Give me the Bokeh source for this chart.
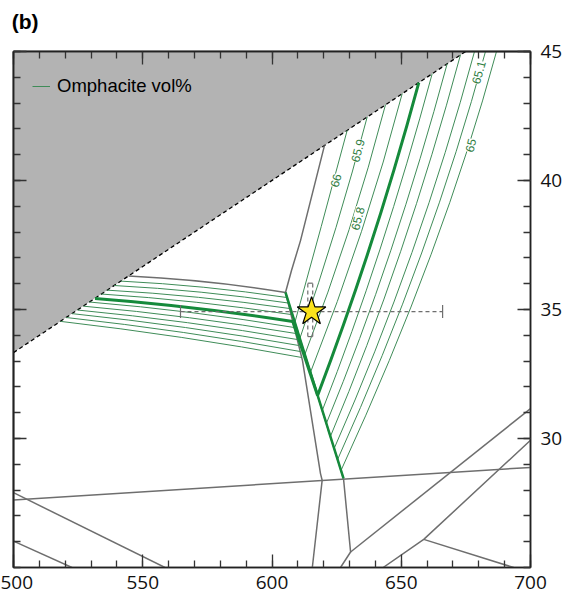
from bokeh.plotting import figure
from bokeh.models import (Range1d, LinearAxis, FixedTicker, ColumnDataSource, LabelSet,
                          Legend, LegendItem)
from bokeh.core.properties import value
from bokeh.embed import file_html
from bokeh.resources import INLINE

# ---------------- data ----------------
x_ticks = [500, 550, 600, 650, 700]
y_ticks = [30, 35, 40, 45]
x_minor = list(range(500, 701, 10))
y_minor = list(range(25, 46))
panel_letter = "(b)"

# grey (excluded) field above the dashed reaction
shade_x = [500, 674.9, 500]
shade_y = [33.33, 45, 45]
dash_x = [500, 674.9]
dash_y = [33.33, 45]

# grey field boundaries (polylines)
bound_xs = [
    [620.31, 611.03, 607.54, 605.22],
    [605.22, 611.8, 618.76, 619.4, 615.6],
    [605.22, 627.66],
    [627.66, 630.4, 626.5],
    [500, 700],
    [630.4, 700],
    [643.0, 658.7, 700],
    [658.7, 693.5],
    [500, 558.6],
    [500, 522.6],
]
bound_ys = [
    [41.36, 37.67, 36.51, 35.66],
    [35.66, 33.02, 28.64, 28.38, 25.0],
    [35.66, 28.45],
    [28.45, 25.6, 25.0],
    [27.62, 28.88],
    [25.6, 31.16],
    [25.0, 26.09, 29.93],
    [26.09, 25.0],
    [27.9, 25.0],
    [26.02, 25.0],
]
# curved grey boundary on top of the left field
topb_x0, topb_y0, topb_cx, topb_cy, topb_x1, topb_y1 = 544.5, 36.30, 575.6, 36.15, 605.22, 35.66

# right-field omphacite isopleths (66 ... 65), quadratic curves
r_val = [66, 65.9, 65.8, 65.7, 65.6, 65.5, 65.4, 65.3, 65.2, 65.1, 65.0]
r_x0 = [629.09, 636.83, 643.91, 650.37, 656.79, 661.97, 667.77, 672.92, 678.34, 682.59, 686.85]
r_y0 = [41.946, 42.465, 42.938, 43.368, 43.795, 44.140, 44.527, 44.872, 45.0, 45.0, 45.0]
r_cx = [619.15, 625.76, 631.33, 636.67, 640.07, 642.90, 647.62, 651.72, 657.10, 661.82, 666.38]
r_cy = [38.217, 38.202, 38.093, 38.097, 37.593, 37.066, 37.047, 37.004, 37.112, 37.287, 37.403]
r_x1 = [608.84, 610.77, 612.70, 614.87, 617.64, 619.45, 621.02, 622.59, 624.04, 625.37, 626.69]
r_y1 = [34.496, 33.876, 33.256, 32.558, 31.667, 31.085, 30.581, 30.078, 29.612, 29.186, 28.760]
r_thick = 4  # index of the bold isopleth

# left-field isopleths, quadratic curves
l_x0 = [541.55, 538.92, 536.29, 533.96, 531.53, 529.32, 526.99, 524.80, 522.67, 520.35, 518.18]
l_y0 = [36.10, 35.93, 35.75, 35.60, 35.43, 35.29, 35.13, 34.98, 34.84, 34.69, 34.54]
l_cx = [573.6, 572.6, 571.5, 570.7, 569.8, 569.0, 568.1, 567.3, 566.5, 565.7, 564.9]
l_cy = [35.94, 35.75, 35.55, 35.36, 35.14, 34.96, 34.76, 34.57, 34.38, 34.19, 34.00]
l_x1 = [605.72, 606.23, 606.77, 607.35, 608.05, 608.63, 609.21, 609.79, 610.37, 610.95, 611.53]
l_y1 = [35.465, 35.252, 35.039, 34.806, 34.535, 34.302, 34.070, 33.837, 33.605, 33.372, 33.140]
l_thick = 4

# bold isopleth inside the narrow channel
chan_x = [608.05, 617.64]
chan_y = [34.535, 31.667]
# narrow field edge packed with isopleths
band_x = [605.22, 627.66]
band_y = [35.66, 28.45]

# isopleth labels
lab_text = ["66", "65.9", "65.8", "65.1", "65"]
lab_x = [624.6, 633.1, 633.1, 679.9, 676.8]
lab_y = [40.0, 41.16, 38.53, 44.19, 41.36]

# P-T estimate with uncertainties
star_x, star_y = 615.3, 34.92
err_x = [564.6, 666.0]
err_y = [33.95, 36.02]
vbar_x = [613.85, 615.75]   # the pressure bar is drawn as a narrow dashed box

# ---------------- styling ----------------
GREY = "#6e6e6e"
THIN_G = "#3f8c58"
THICK_G = "#158a3b"
LAB_G = "#2f7d42"
TICK_FONT = "Open Sans"

p = figure(width=574, height=599, x_range=Range1d(500, 700), y_range=Range1d(25, 45),
           output_backend="svg", toolbar_location=None,
           x_axis_location=None, y_axis_location=None,
           min_border_left=13, min_border_right=44, min_border_top=51, min_border_bottom=32)
p.xgrid.visible = False
p.ygrid.visible = False
p.background_fill_color = "white"
p.border_fill_color = "white"
p.outline_line_color = "#222222"
p.outline_line_width = 1.5


def base_axis(ax):
    ax.major_tick_in = 13
    ax.major_tick_out = 0
    ax.minor_tick_in = 7
    ax.minor_tick_out = 0
    ax.axis_line_color = "#222222"
    ax.axis_line_width = 1.5
    ax.major_tick_line_color = "#333333"
    ax.minor_tick_line_color = "#333333"
    ax.major_tick_line_width = 1.3
    ax.minor_tick_line_width = 1.3
    ax.major_label_text_font = TICK_FONT
    ax.major_label_text_font_size = "19px"
    ax.major_label_text_color = "#111111"


# labelled axes
xb = LinearAxis(ticker=FixedTicker(ticks=x_ticks, minor_ticks=x_minor))
base_axis(xb)
xb.major_label_standoff = 8
p.add_layout(xb, "below")
yr = LinearAxis(ticker=FixedTicker(ticks=y_ticks, minor_ticks=y_minor))
base_axis(yr)
yr.major_label_standoff = 10
p.add_layout(yr, "right")

# unlabelled tick rows on top and left (minor-only tickers => no label texts)
top_axis = None
for loc, minors, majors in (("above", x_minor, x_ticks), ("left", y_minor, y_ticks)):
    a1 = LinearAxis(ticker=FixedTicker(ticks=[], minor_ticks=minors))
    base_axis(a1)
    a1.major_label_standoff = 0
    p.add_layout(a1, loc)
    a2 = LinearAxis(ticker=FixedTicker(ticks=[], minor_ticks=majors))
    base_axis(a2)
    a2.minor_tick_in = 13
    a2.major_label_standoff = 0
    p.add_layout(a2, loc)
    if loc == "above":
        top_axis = a2

# panel letter as the label of the top tick row, at the left edge of the frame
top_axis.axis_label = "\u00a0\u00a0\u00a0\u00a0" + panel_letter
top_axis.axis_label_align = "start"
top_axis.axis_label_standoff = 19
top_axis.axis_label_text_font = "Liberation Sans"
top_axis.axis_label_text_font_size = "21px"
top_axis.axis_label_text_font_style = "bold"
top_axis.axis_label_text_color = "black"

# shaded field and dashed reaction
p.patch(shade_x, shade_y, fill_color="#b3b3b3", line_color=None)
p.line(dash_x, dash_y, line_color="black", line_width=1.3, line_dash="4 3")

# grey boundaries
p.multi_line(bound_xs, bound_ys, line_color=GREY, line_width=1.5)
p.quadratic(x0=[topb_x0], y0=[topb_y0], x1=[topb_x1], y1=[topb_y1], cx=[topb_cx], cy=[topb_cy],
            line_color=GREY, line_width=1.5)

# isopleths
thin_r = [i for i in range(len(r_val)) if i != r_thick]
r_src = ColumnDataSource(dict(x0=[r_x0[i] for i in thin_r], y0=[r_y0[i] for i in thin_r],
                              cx=[r_cx[i] for i in thin_r], cy=[r_cy[i] for i in thin_r],
                              x1=[r_x1[i] for i in thin_r], y1=[r_y1[i] for i in thin_r]))
r_thin = p.quadratic(x0="x0", y0="y0", x1="x1", y1="y1", cx="cx", cy="cy", source=r_src,
                     line_color=THIN_G, line_width=1.0)
thin_l = [i for i in range(len(l_x0)) if i != l_thick]
l_src = ColumnDataSource(dict(x0=[l_x0[i] for i in thin_l], y0=[l_y0[i] for i in thin_l],
                              cx=[l_cx[i] for i in thin_l], cy=[l_cy[i] for i in thin_l],
                              x1=[l_x1[i] for i in thin_l], y1=[l_y1[i] for i in thin_l]))
p.quadratic(x0="x0", y0="y0", x1="x1", y1="y1", cx="cx", cy="cy", source=l_src,
            line_color=THIN_G, line_width=1.0)

p.line(band_x, band_y, line_color=THICK_G, line_width=2.5)
p.quadratic(x0=[r_x0[r_thick]], y0=[r_y0[r_thick]], x1=[r_x1[r_thick]], y1=[r_y1[r_thick]],
            cx=[r_cx[r_thick]], cy=[r_cy[r_thick]], line_color=THICK_G, line_width=3)
p.quadratic(x0=[l_x0[l_thick]], y0=[l_y0[l_thick]], x1=[l_x1[l_thick]], y1=[l_y1[l_thick]],
            cx=[l_cx[l_thick]], cy=[l_cy[l_thick]], line_color=THICK_G, line_width=3)
p.line(chan_x, chan_y, line_color=THICK_G, line_width=3)

# labels
lab_src = ColumnDataSource(dict(x=lab_x, y=lab_y, t=lab_text))
p.add_layout(LabelSet(x="x", y="y", text="t", source=lab_src, angle=75, angle_units="deg",
                      text_align="center", text_baseline="middle", text_color=LAB_G,
                      text_font=value("Liberation Sans"), text_font_size=value("12px"),
                      background_fill_color="white"))

# error bars and star
p.segment(x0=[err_x[0]], y0=[star_y], x1=[err_x[1]], y1=[star_y], line_color=GREY,
          line_width=1.2, line_dash="4 3")
p.segment(x0=err_x, y0=[star_y - 0.25] * 2, x1=err_x, y1=[star_y + 0.25] * 2,
          line_color=GREY, line_width=1.2)
p.segment(x0=vbar_x, y0=[err_y[0]] * 2, x1=vbar_x, y1=[err_y[1]] * 2, line_color=GREY,
          line_width=1.2, line_dash="4 3")
p.segment(x0=[vbar_x[0]] * 2, y0=err_y, x1=[vbar_x[1]] * 2, y1=err_y,
          line_color=GREY, line_width=1.2)
p.scatter([star_x], [star_y], marker="star", size=30, fill_color="#fbe21c",
          line_color="black", line_width=1.2)

legend = Legend(items=[LegendItem(label="Omphacite vol%", renderers=[r_thin])],
                location=(19, 470), border_line_alpha=0, background_fill_alpha=0,
                padding=0, margin=0, glyph_width=18, label_standoff=7,
                label_text_font="Liberation Sans", label_text_font_size="18.5px",
                label_text_color="black")
p.add_layout(legend)

open("out.html", "w").write(file_html(p, INLINE))
